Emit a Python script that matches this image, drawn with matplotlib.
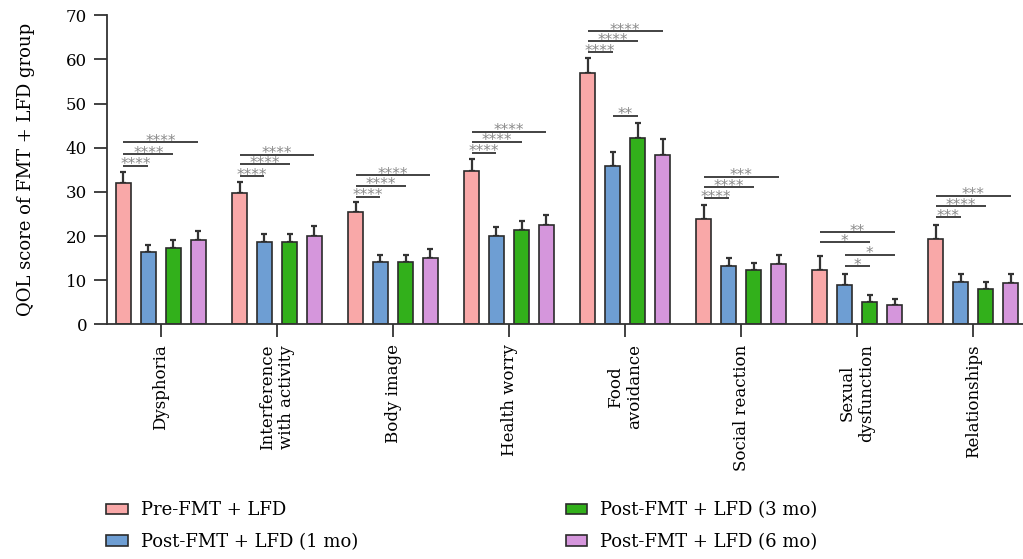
import matplotlib
matplotlib.use("Agg")
import matplotlib.pyplot as plt
from matplotlib.patches import Patch

categories = [
    "Dysphoria",
    "Interference\nwith activity",
    "Body image",
    "Health worry",
    "Food\navoidance",
    "Social reaction",
    "Sexual\ndysfunction",
    "Relationships",
]
groups = [
    "Pre-FMT + LFD",
    "Post-FMT + LFD (1 mo)",
    "Post-FMT + LFD (3 mo)",
    "Post-FMT + LFD (6 mo)",
]

pre_mean = [31.9, 29.7, 25.4, 34.8, 57.0, 23.9, 12.2, 19.4]
pre_err = [2.7, 2.6, 2.4, 2.7, 3.4, 3.2, 3.2, 3.2]
m1_mean = [16.4, 18.6, 14.0, 20.1, 35.9, 13.1, 9.0, 9.6]
m1_err = [1.6, 1.8, 1.7, 2.0, 3.2, 2.0, 2.3, 1.8]
m3_mean = [17.2, 18.6, 14.0, 21.3, 42.1, 12.2, 5.0, 7.9]
m3_err = [1.8, 1.8, 1.7, 2.0, 3.5, 1.7, 1.7, 1.7]
m6_mean = [19.0, 19.9, 15.1, 22.5, 38.4, 13.6, 4.3, 9.4]
m6_err = [2.2, 2.4, 2.0, 2.3, 3.5, 2.0, 1.5, 2.0]

# significance brackets: category, bar from, bar to, height, label
sig_cat = [0, 0, 0, 1, 1, 1, 2, 2, 2, 3, 3, 3, 4, 4, 4, 4,
           5, 5, 5, 6, 6, 6, 6, 7, 7, 7]
sig_from = [0, 0, 0, 0, 0, 0, 0, 0, 0, 0, 0, 0, 0, 0, 0, 1,
            0, 0, 0, 0, 0, 1, 1, 0, 0, 0]
sig_to = [1, 2, 3, 1, 2, 3, 1, 2, 3, 1, 2, 3, 1, 2, 3, 2,
          1, 2, 3, 3, 2, 3, 2, 1, 2, 3]
sig_y = [35.95, 38.5, 41.3, 33.6, 36.2, 38.4, 28.9, 31.4, 33.75,
         38.9, 41.4, 43.6, 61.6, 64.1, 66.4, 47.3,
         28.5, 31.1, 33.4, 20.9, 18.6, 15.8, 13.2, 24.2, 26.8, 29.1]
sig_txt = ["****", "****", "****", "****", "****", "****", "****", "****", "****",
           "****", "****", "****", "****", "****", "****", "**",
           "****", "****", "***", "**", "*", "*", "*", "***", "****", "***"]

colors = ["#F9A8A8", "#6E9ED3", "#32B01B", "#D596DC"]
edge = "#2b2b2b"
offsets = [-0.323, -0.108, 0.108, 0.323]
width = 0.13

plt.rcParams["font.family"] = ["DejaVu Serif"]

fig = plt.figure(figsize=(10.23, 5.59), dpi=100)
ax = fig.add_axes([0.1046, 0.4199, 0.8954, 0.5527])

means = [pre_mean, m1_mean, m3_mean, m6_mean]
errs = [pre_err, m1_err, m3_err, m6_err]
x = list(range(len(categories)))
for j in range(4):
    xs = [i + offsets[j] for i in x]
    ax.bar(xs, means[j], width, color=colors[j], edgecolor=edge,
           linewidth=1.2, zorder=2)
    ax.errorbar(xs, means[j], yerr=[[0] * len(xs), errs[j]], fmt="none",
                ecolor="#333333", elinewidth=1.6, capsize=2.3, capthick=1.6,
                zorder=1)

for c, a, b, y, t in zip(sig_cat, sig_from, sig_to, sig_y, sig_txt):
    x1 = c + offsets[a]
    x2 = c + offsets[b]
    ax.plot([x1, x2], [y, y], color="#222222", lw=1.2, solid_capstyle="butt")
    ax.annotate(t, ((x1 + x2) / 2, y), xytext=(0, -2.6),
                textcoords="offset points", ha="center", va="baseline",
                fontsize=11, color="#8a8a8a", family="DejaVu Sans")

ax.set_xlim(-0.465, 7.43)
ax.set_ylim(0, 70)
ax.set_yticks(range(0, 71, 10))
ax.set_xticks(x)
ax.set_xticklabels(categories, rotation=90, ha="center", va="top",
                   multialignment="center", fontsize=12)
ax.tick_params(axis="both", length=9.4, width=1.3, color="#333333",
               labelsize=12, pad=5)
ax.set_ylabel("QOL score of FMT + LFD group", fontsize=13, labelpad=22)
for s in ["top", "right"]:
    ax.spines[s].set_visible(False)
for s in ["left", "bottom"]:
    ax.spines[s].set_linewidth(1.3)
    ax.spines[s].set_color("#333333")

handles = [Patch(facecolor=colors[j], edgecolor=edge, linewidth=1.2)
           for j in range(4)]
leg_kw = dict(frameon=False, fontsize=13, handlelength=1.17,
              handleheight=0.5, handletextpad=0.75, labelspacing=0.75,
              borderpad=0, borderaxespad=0, loc="upper left")
fig.legend(handles[:2], groups[:2], bbox_to_anchor=(0.104, 0.103), **leg_kw)
fig.legend(handles[2:], groups[2:], bbox_to_anchor=(0.553, 0.103), **leg_kw)

fig.savefig("out.png", dpi=100)
